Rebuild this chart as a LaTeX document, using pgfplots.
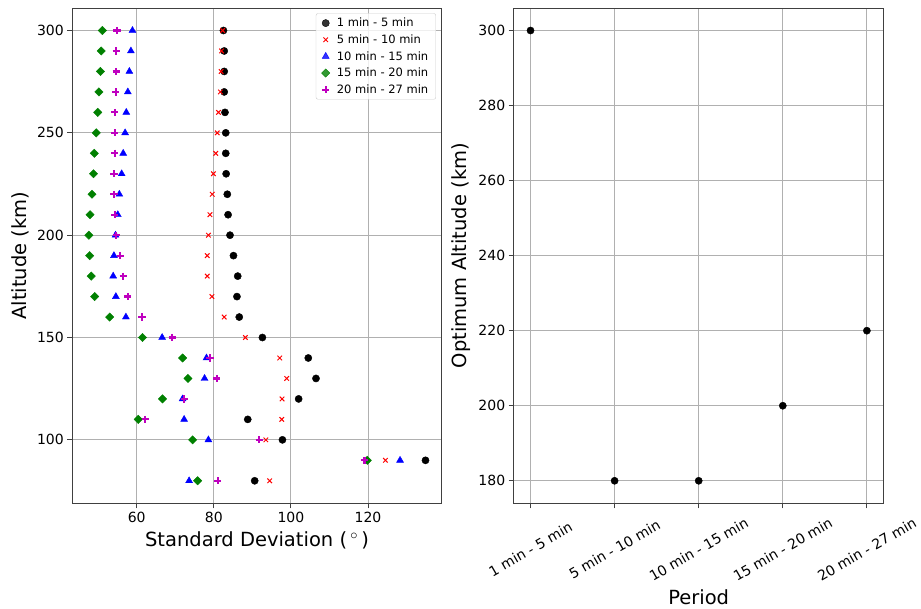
\documentclass[border=0pt]{standalone}
\usepackage{pgfplots}
\pgfplotsset{compat=1.18}
\usepackage{fontspec}
\setmainfont{DejaVu Sans}
\definecolor{mplgreen}{rgb}{0,0.5,0}
\definecolor{mplmag}{rgb}{0.75,0,0.75}
\definecolor{gridgray}{HTML}{B0B0B0}
\definecolor{axgray}{HTML}{404040}

\pgfplotstableread{
alt k r b g m
300 82.5 82.3 58.9 51.1 54.9
290 82.7 82.0 58.5 50.8 54.7
280 82.7 81.9 58.1 50.6 54.7
270 82.7 81.7 57.7 50.2 54.6
260 82.9 81.2 57.3 49.9 54.3
250 83.1 80.9 57.0 49.5 54.3
240 83.1 80.5 56.5 49.0 54.3
230 83.2 79.9 56.1 48.8 54.1
220 83.5 79.6 55.5 48.4 54.1
210 83.7 79.0 55.1 47.9 54.3
200 84.2 78.6 54.5 47.6 54.7
190 85.1 78.3 54.1 47.8 55.7
180 86.2 78.3 53.9 48.2 56.5
170 86.0 79.5 54.6 49.1 57.7
160 86.6 82.7 57.2 53.0 61.4
150 92.6 88.2 66.6 61.5 69.2
140 104.5 97.1 78.1 71.9 79.0
130 106.5 98.9 77.6 73.3 80.8
120 102.0 97.7 71.9 66.7 72.3
110 88.8 97.6 72.3 60.4 62.2
100 97.8 93.5 78.6 74.5 91.8
90 134.9 124.5 128.3 119.8 119.1
80 90.6 94.5 73.6 75.8 81.0
}\sdtable

\pgfplotstableread{
p opt
0 300
1 180
2 180
3 200
4 220
}\opttable

\begin{document}
\begin{tikzpicture}
\useasboundingbox (0pt,0pt) rectangle (921pt,608pt);
\pgfplotsset{
 mystyle/.style={
  scale only axis, anchor=south west,
  grid=major, grid style={gridgray, line width=0.9pt},
  axis line style={axgray, line width=0.9pt},
  tick align=outside, major tick length=5pt,
  xtick pos=bottom, ytick pos=left,
  tick style={axgray, line width=0.9pt},
  tick label style={font=\fontsize{14}{16}\selectfont},
  label style={font=\fontsize{19.5}{22}\selectfont},
  /pgf/number format/assume math mode=true,
  axis background/.style={fill=white},
  clip=false,
 },
}
\begin{axis}[mystyle, at={(72.3pt,104.7pt)}, width=369.4pt, height=495.3pt,
  xmin=43.3, xmax=139.1, ymin=69, ymax=311,
  xtick={60,80,100,120}, ytick={100,150,200,250,300},
  xlabel={Standard Deviation (\,$^\circ$\,)}, ylabel={Altitude (km)},
  xlabel style={at={(axis description cs:0.5,0)}, anchor=center, yshift=-37.5pt},
  ylabel style={at={(axis description cs:0,0.5)}, anchor=center, yshift=52.3pt},
  legend style={at={(1,1)}, anchor=north east, xshift=-5.7pt, yshift=-5.3pt,
    draw=black!20, rounded corners=2pt, fill=white, fill opacity=0.8, text opacity=1,
    font=\fontsize{11.5}{13}\selectfont, row sep=2.4pt, column sep=5pt,
    inner xsep=5.5pt, inner ysep=2.5pt},
  legend cell align=left,
]
\addplot[only marks, mark=*, mark size=3.6pt, black] table[x=k, y=alt] {\sdtable};
\addlegendentry{1 min - 5 min}
\addplot[only marks, mark=x, mark size=3.2pt, red, mark options={line width=1pt}] table[x=r, y=alt] {\sdtable};
\addlegendentry{5 min - 10 min}
\addplot[only marks, mark=triangle*, mark size=4pt, blue] table[x=b, y=alt] {\sdtable};
\addlegendentry{10 min - 15 min}
\addplot[only marks, mark=square*, mark size=2.95pt, mplgreen, mark options={rotate=45}] table[x=g, y=alt] {\sdtable};
\addlegendentry{15 min - 20 min}
\addplot[only marks, mark=+, mark size=3.6pt, mplmag, mark options={line width=2.2pt}] table[x=m, y=alt] {\sdtable};
\addlegendentry{20 min - 27 min}
\end{axis}

\begin{axis}[mystyle, at={(513.7pt,104.7pt)}, width=370pt, height=495.3pt,
  xmin=-0.2, xmax=4.2, ymin=174, ymax=306,
  xtick={0,1,2,3,4}, ytick={180,200,220,240,260,280,300},
  xticklabels={1 min - 5 min, 5 min - 10 min, 10 min - 15 min, 15 min - 20 min, 20 min - 27 min},
  xticklabel style={yshift=-41pt, rotate=30, anchor=center},
  xlabel={Period}, ylabel={Optimum Altitude (km)},
  xlabel style={at={(axis description cs:0.5,0)}, anchor=base, yshift=-101pt},
  ylabel style={at={(axis description cs:0,0.5)}, anchor=center, yshift=52.2pt},
]
\addplot[only marks, mark=*, mark size=3.6pt, black] table[x=p, y=opt] {\opttable};
\end{axis}
\end{tikzpicture}
\end{document}
